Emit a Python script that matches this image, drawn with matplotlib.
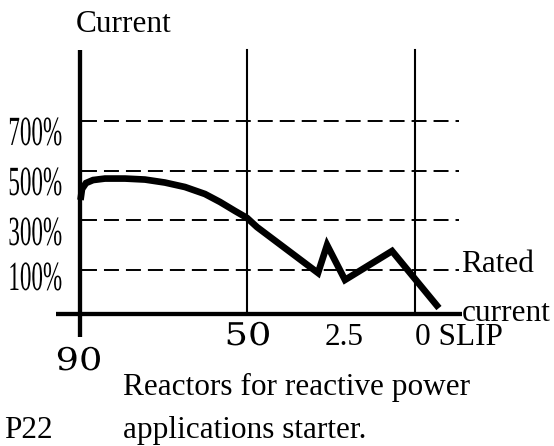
import matplotlib
matplotlib.use("Agg")
import matplotlib.pyplot as plt
from matplotlib.patheffects import AbstractPathEffect
from matplotlib.transforms import Affine2D

# ---------------- data ----------------
# x = position along slip axis (90 -> 0, 50 -> 1, 0 -> 2), y = current in %
current_pos = [0.003, 0.012, 0.036, 0.078, 0.149, 0.269, 0.388, 0.507, 0.627,
               0.746, 0.836, 0.925, 0.997, 1.057, 1.421, 1.475, 1.582, 1.863, 2.143]
current_pct = [382, 426, 450, 462, 468, 468, 464, 452, 434,
               406, 374, 338, 310, 273, 89, 201, 61, 177, -52]
grid_levels = [100, 300, 500, 700]
grid_labels = ["100%", "300%", "500%", "700%"]
slip_lines = [1.0, 2.0]

W, H = 554, 446
fig = plt.figure(figsize=(W / 100, H / 100), dpi=100)
ax = fig.add_axes([0, 0, 1, 1])
ax.set_xlim(-0.4776, 2.8299)
ax.set_ylim(-606.0, 1185.1)
ax.axis("off")

axis_y = -76
top_y = 984

# dashed reference lines
for lv in grid_levels:
    ax.plot([0.012, 2.263], [lv, lv], color="black", lw=1.4,
            linestyle=(0, (7.7, 3.6)), solid_capstyle="butt")

# thin vertical lines
for xv in slip_lines:
    ax.plot([xv, xv], [axis_y, top_y], color="black", lw=1.5)

# axes
ax.plot([-0.143, 2.281], [axis_y, axis_y], color="black", lw=3.1, solid_capstyle="butt")
ax.plot([0, 0], [-168, top_y], color="black", lw=3.1, solid_capstyle="butt")

# current curve
ax.plot(current_pos, current_pct, color="black", lw=4.8,
        solid_joinstyle="miter", solid_capstyle="butt")


class YScale(AbstractPathEffect):
    def __init__(self, sy, y0):
        super().__init__()
        self.sy = sy
        self.y0 = y0

    def draw_path(self, renderer, gc, tpath, affine, rgbFace=None):
        t = affine + Affine2D().translate(0, -self.y0).scale(1, self.sy).translate(0, self.y0)
        renderer.draw_path(gc, tpath, t, rgbFace)


SERIF = "Liberation Serif"


def ptext(x, y, s, size=22.5, family=SERIF, ha="left", sy=None):
    kw = {}
    if sy is not None:
        kw["path_effects"] = [YScale(sy, H - y)]
    fig.text(x / W, 1 - y / H, s, fontsize=size, family=family, ha=ha,
             va="baseline", **kw)


# percentage labels
pct_baselines = [290, 245, 195, 145]
for lab, by in zip(grid_labels, pct_baselines):
    ptext(62, by, lab, size=16.6, ha="right", sy=1.8)

ptext(124, 32, "Current", ha="center")
ptext(79, 370, "90", size=26.5, family="DejaVu Serif", ha="center", sy=0.85)
ptext(248, 345, "50", size=26.5, family="DejaVu Serif", ha="center", sy=0.85)
ptext(344, 345, "2.5", ha="center")
ptext(415, 345, "0 SLIP")
ptext(461, 272, "Rated")
ptext(462, 321, "current")
ptext(123, 395, "Reactors for reactive power")
ptext(123, 438, "applications starter.")
ptext(4, 438, "P22")

fig.savefig("out.png", dpi=100)
